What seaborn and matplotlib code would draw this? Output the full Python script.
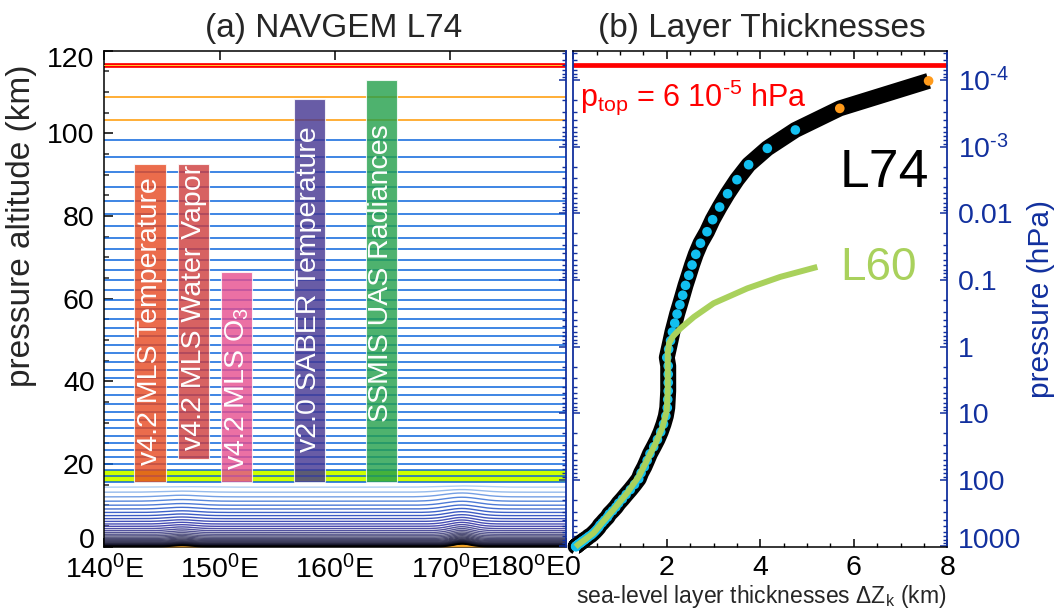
import numpy as np
import pandas as pd
import matplotlib
matplotlib.use("Agg")
import matplotlib.pyplot as plt
import matplotlib.transforms as mtransforms
from matplotlib.colors import LinearSegmentedColormap
from matplotlib.ticker import MultipleLocator, FixedLocator, NullFormatter
import seaborn as sns

# ---------------- data ----------------
# NAVGEM L74 layer interfaces, pressure altitude (km), top -> bottom
l74_interface_alt_km = [
    116.5, 108.9, 103.2, 98.45, 94.3, 90.55, 87.05, 83.75, 80.62, 77.64,
    74.78, 72.06, 69.44, 66.9, 64.43, 62.03, 59.69, 57.41, 55.19, 53.02,
    50.9, 48.82, 46.78, 44.78, 42.75, 40.72, 38.69, 36.66, 34.64, 32.63,
    30.65, 28.72, 26.85, 25.05, 23.33, 21.69, 20.11, 18.59, 17.14, 15.74,
    14.43, 13.21, 12.08, 11.03, 10.06, 9.15, 8.31, 7.54, 6.81, 6.14,
    5.52, 4.95, 4.41, 3.91, 3.45, 3.03, 2.65, 2.32, 2.02, 1.76,
    1.52, 1.32, 1.13, 0.97, 0.82, 0.69, 0.58, 0.48, 0.39, 0.31,
    0.23, 0.17, 0.11, 0.06, 0.0]

band_alt_km = [15.74, 18.59]

instr_names = ["v4.2 MLS Temperature", "v4.2 MLS Water Vapor", "v4.2 MLS O$_3$",
               "v2.0 SABER Temperature", "SSMIS UAS Radiances"]
instr_lon_center = [143.95, 147.73, 151.48, 157.77, 164.02]
instr_lon_width = [2.72, 2.72, 2.72, 2.72, 2.72]
instr_bottom_km = [15.74, 21.2, 15.74, 15.74, 15.74]
instr_top_km = [92.5, 92.5, 66.5, 108.4, 112.9]
instr_text_bottom_km = [19.8, 23.4, 18.6, 23.0, 30.3]
instr_colors = ["#e7471f", "#cd3b3b", "#e64c8e", "#423390", "#229f4a"]

mountain_lon = [146.7, 171.0]
mountain_height_km = [0.25, 0.6]

l60_alt_km = [0.0, 0.5, 1.5, 3.3, 6.0, 9.0, 13.0, 17.0, 21.0, 25.0, 29.0, 33.0,
              38.0, 43.0, 47.0, 49.3, 51.0, 52.8, 55.6, 58.9, 62.5, 65.3, 67.7]
l60_dz_km = [0.05, 0.1, 0.22, 0.43, 0.63, 0.86, 1.15, 1.4, 1.58, 1.76, 1.91, 2.0,
             2.02, 2.02, 2.02, 2.05, 2.14, 2.29, 2.58, 3.0, 3.72, 4.43, 5.22]

p_top_hpa = 6e-5
pressure_ticks_hpa = [1e-4, 1e-3, 0.01, 0.1, 1, 10, 100, 1000]
pressure_tick_labels = ["10$^{\\text{-4}}$", "10$^{\\text{-3}}$", "0.01", "0.1",
                        "1", "10", "100", "1000"]

lon_ticks = [140, 150, 160, 170, 180]
lon_tick_labels = ["140$^0$E", "150$^0$E", "160$^0$E", "170$^0$E", "180$^{\\rm o}$E"]
alt_ticks = [0, 20, 40, 60, 80, 100, 120]
dz_ticks = [0, 2, 4, 6, 8]

# ---------------- style ----------------
sns.set_theme(style="white")
plt.rcParams["font.family"] = ["Liberation Sans", "DejaVu Sans"]
plt.rcParams["mathtext.fontset"] = "custom"
plt.rcParams["mathtext.rm"] = "Liberation Sans"
plt.rcParams["mathtext.it"] = "Liberation Sans:italic"
plt.rcParams["mathtext.bf"] = "Liberation Sans:bold"
plt.rcParams["axes.linewidth"] = 1.1

H = 7.0
P0 = 1013.25
BLUE_AX = "#12309e"
LEVEL_BLUE = "#0a64dc"


def p2z(p):
    return H * np.log(P0 / np.asarray(p, dtype=float))


fig = plt.figure(figsize=(10.57, 6.09), dpi=100)
ax1 = fig.add_axes([104.4 / 1057, 62.2 / 609, 461.2 / 1057, 496.1 / 609])
ax2 = fig.add_axes([573.3 / 1057, 62.2 / 609, 374.0 / 1057, 496.1 / 609])

# pressure tick positions
zmaj = p2z(pressure_ticks_hpa)
pmin = []
for k in range(-5, 4):
    for m in range(2, 10):
        p = m * 10.0 ** k
        if 3.7e-5 < p < 1013:
            pmin.append(p)
zmin = p2z(pmin)

# ================= panel (a) =================
lev = np.array(l74_interface_alt_km)
lon_grid = np.linspace(140, 180, 801)

cm_low = LinearSegmentedColormap.from_list(
    "low",
    list(zip(np.array([0, 0.3, 1.0, 2.5, 5.0, 8.0, 11.0, 13.5, 15.5]) / 15.5,
             ["#000000", "#15152a", "#3a3a58", "#5a5a84", "#4a4ab0", "#3a5ec8",
              "#5586dc", "#9cc0ee", "#c4dcf6"])))


def level_offset(z):
    g = np.interp(z, [0, 2, 12, 15.5], [1.0, 1.6, 1.6, 0.0])
    off = np.zeros_like(lon_grid)
    for m, h in zip(mountain_lon, mountain_height_km):
        sig = 1.0 + 0.1 * z
        off += h * g * np.exp(-((lon_grid - m) / sig) ** 2)
    return off


ax1.axhspan(band_alt_km[0], band_alt_km[1], color="#ccff00", zorder=1, lw=0)
for i, z in enumerate(lev):
    if i == 0:
        ax1.plot(lon_grid, np.full_like(lon_grid, z), color="#ff0000", lw=3.4, zorder=2.5)
        ax1.plot(lon_grid, np.full_like(lon_grid, z), color="#ffcc33", lw=0.7, zorder=2.6)
    elif i <= 2:
        ax1.plot(lon_grid, np.full_like(lon_grid, z), color="#ff9900", lw=1.1, zorder=2)
    elif z >= 15.7:
        ax1.plot(lon_grid, np.full_like(lon_grid, z), color=LEVEL_BLUE, lw=1.1, zorder=2)
    else:
        ax1.plot(lon_grid, z + level_offset(z), color=cm_low(min(z / 15.5, 1.0)),
                 lw=1.0, zorder=2)

terrain = np.zeros_like(lon_grid)
for m, h in zip(mountain_lon, mountain_height_km):
    terrain += h * np.exp(-((lon_grid - m) / 1.0) ** 2)
ax1.fill_between(lon_grid, 0, terrain, color="#f0a020", lw=0, zorder=2.8)

for name, c, w, b, t, tb, col in zip(instr_names, instr_lon_center, instr_lon_width,
                                     instr_bottom_km, instr_top_km,
                                     instr_text_bottom_km, instr_colors):
    ax1.bar(c, t - b, width=w, bottom=b, color=col, alpha=0.8,
            edgecolor="white", linewidth=0.8, zorder=3)
    ax1.text(c, tb, name, rotation=90, ha="center", va="bottom", color="white",
             fontsize=20.5, zorder=4)

ax1.set_xlim(140, 180)
ax1.set_ylim(0, 120)
ax1.set_xticks(lon_ticks, lon_tick_labels)
ax1.set_yticks(alt_ticks, [str(v) for v in alt_ticks])
ax1.yaxis.set_minor_locator(MultipleLocator(5))
ax1.tick_params(axis="x", which="major", direction="in", top=True, bottom=True,
                length=6.5, width=1.1, pad=6, labelsize=20.5, colors="black")
ax1.tick_params(axis="y", which="major", direction="in", left=True, right=False,
                length=6.5, width=1.1, pad=7, labelsize=20.5, colors="black")
ax1.tick_params(axis="y", which="minor", direction="in", left=True, right=False,
                length=3.6, width=1.1)
for s in ["left", "top", "bottom"]:
    ax1.spines[s].set_color("black")
ax1.spines["right"].set_visible(False)
xl = ax1.get_xticklabels()
xl[-1].set_ha("right")

ax1r = ax1.twinx()
ax1r.set_ylim(0, 120)
ax1r.yaxis.set_major_locator(FixedLocator(zmaj))
ax1r.yaxis.set_minor_locator(FixedLocator(zmin))
ax1r.yaxis.set_major_formatter(NullFormatter())
ax1r.yaxis.set_minor_formatter(NullFormatter())
ax1r.tick_params(axis="y", which="major", direction="in", right=True, left=False,
                 length=5, width=1.1, color=BLUE_AX)
ax1r.tick_params(axis="y", which="minor", direction="in", right=True, left=False,
                 length=3, width=1.0, color=BLUE_AX)
for s in ["left", "top", "bottom"]:
    ax1r.spines[s].set_visible(False)
ax1r.spines["right"].set_color(BLUE_AX)
ax1r.spines["right"].set_linewidth(1.3)

fig.text(22 / 1057, 1 - 226 / 609, "pressure altitude (km)", rotation=90,
         ha="center", va="center", fontsize=24)
fig.text(333.5 / 1057, 1 - 36.7 / 609, "(a) NAVGEM L74", ha="center",
         va="baseline", fontsize=24)

# ================= panel (b) =================
dz = lev[:-1] - lev[1:]
mid = 0.5 * (lev[:-1] + lev[1:])
df74 = pd.DataFrame({"dz": dz, "alt": mid,
                     "kind": ["top"] * 2 + ["main"] * (len(dz) - 2)})
df60 = pd.DataFrame({"dz": l60_dz_km, "alt": l60_alt_km})

ax2.axhline(p2z(p_top_hpa), color="#ff0000", lw=3.4, zorder=2)
sns.lineplot(data=df74, x="dz", y="alt", sort=False, estimator=None, color="black",
             lw=11.5, solid_capstyle="butt", clip_on=False, legend=False, ax=ax2,
             zorder=3)
sns.scatterplot(data=df74, x="dz", y="alt", hue="kind",
                palette={"top": "#ff9a1a", "main": "#12bff0"}, s=48,
                edgecolor="none", legend=False, ax=ax2, zorder=4, clip_on=False)
sns.lineplot(data=df60, x="dz", y="alt", sort=False, estimator=None, color="#a9d15c",
             lw=4.3, solid_capstyle="butt", clip_on=False, legend=False, ax=ax2,
             zorder=5)

ax2.set_xlim(0, 8)
ax2.set_ylim(0, 120)
ax2.set_xticks(dz_ticks, [str(v) for v in dz_ticks])
ax2.xaxis.set_minor_locator(MultipleLocator(0.5))
ax2.tick_params(axis="x", which="major", direction="in", top=True, bottom=True,
                length=6, width=1.1, pad=6, labelsize=20.5, colors="black")
ax2.tick_params(axis="x", which="minor", direction="in", top=True, bottom=True,
                length=3, width=1.0, colors="black")
ax2.yaxis.set_major_locator(FixedLocator(zmaj))
ax2.yaxis.set_minor_locator(FixedLocator(zmin))
ax2.set_yticklabels(pressure_tick_labels)
ax2.yaxis.set_minor_formatter(NullFormatter())
ax2.tick_params(axis="y", which="major", direction="in", left=True, right=True,
                labelleft=False, labelright=True, length=5, width=1.1, pad=7.5,
                labelsize=20.5, color=BLUE_AX, labelcolor=BLUE_AX)
ax2.tick_params(axis="y", which="minor", direction="in", left=True, right=True,
                length=3, width=1.0, color=BLUE_AX)
ax2.spines["left"].set_color(BLUE_AX)
ax2.spines["right"].set_color(BLUE_AX)
ax2.spines["left"].set_linewidth(1.3)
ax2.spines["right"].set_linewidth(1.3)
ax2.spines["top"].set_color("black")
ax2.spines["bottom"].set_color("black")
ax2.set_xlabel("")
ax2.set_ylabel("")

ax2.text(0.14, 106.7, "p$_{\\rm top}$ = 6 10$^{\\text{-5}}$ hPa", color="#ff0000",
         fontsize=22, ha="left", va="baseline", zorder=6)
ax2.text(5.70, 87.1, "L74", color="black", fontsize=38.5, ha="left",
         va="baseline", zorder=6)
ax2.text(5.72, 64.5, "L60", color="#a9d15c", fontsize=33, ha="left",
         va="baseline", zorder=6)

fig.text(761 / 1057, 1 - 603 / 609, "sea-level layer thicknesses \u0394Z$_{\\rm k}$ (km)",
         ha="center", va="baseline", fontsize=16.5)
fig.text(1041 / 1057, 1 - 299 / 609, "pressure (hPa)", rotation=90, ha="center",
         va="center", fontsize=21.5, color=BLUE_AX)
fig.text(762 / 1057, 1 - 36.7 / 609, "(b) Layer Thicknesses", ha="center",
         va="baseline", fontsize=24)


# small vertical nudges of the outermost tick labels, as in the reference
def nudge(label, dy_px):
    label.set_transform(label.get_transform() +
                        mtransforms.ScaledTranslation(0, dy_px / 100, fig.dpi_scale_trans))


yt = ax1.yaxis.get_major_ticks()
nudge(yt[0].label1, 9)
nudge(yt[-1].label1, -6)
pt = ax2.yaxis.get_major_ticks()
nudge(pt[-1].label2, 8)

fig.savefig("out.png", dpi=100)
